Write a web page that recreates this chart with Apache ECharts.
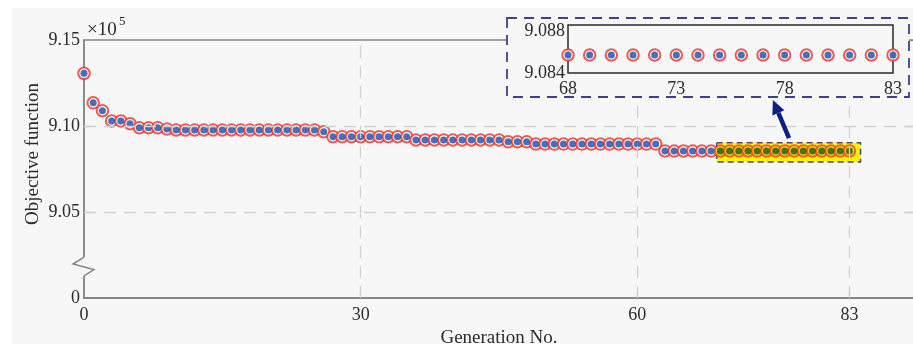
<!DOCTYPE html>
<html><head><meta charset="utf-8">
<script src="https://cdn.jsdelivr.net/npm/echarts@6/dist/echarts.min.js"></script>
<style>
html,body{margin:0;padding:0;background:#fff;width:913px;height:344px;overflow:hidden}
#c{position:absolute;left:12px;top:8px;width:901px;height:336px;background:#f7f7f7}
</style></head><body><div id="c"></div>
<script>
// ---- data (objective function values in units of 1e5) ----
const generations = [0,1,2,3,4,5,6,7,8,9,10,11,12,13,14,15,16,17,18,19,20,21,22,23,24,25,26,27,28,29,30,31,32,33,34,35,36,37,38,39,40,41,42,43,44,45,46,47,48,49,50,51,52,53,54,55,56,57,58,59,60,61,62,63,64,65,66,67,68,69,70,71,72,73,74,75,76,77,78,79,80,81,82,83];
const objective = [
  9.1306, 9.1135, 9.1089, 9.1029, 9.1029, 9.1013, 9.0990, 9.0990, 9.0990, 9.0983,
  9.0977, 9.0977, 9.0977, 9.0977, 9.0977, 9.0977, 9.0977, 9.0977, 9.0977, 9.0977,
  9.0977, 9.0977, 9.0977, 9.0977, 9.0977, 9.0977, 9.0967, 9.0938, 9.0938, 9.0938,
  9.0938, 9.0938, 9.0938, 9.0938, 9.0938, 9.0938, 9.0919, 9.0919, 9.0919, 9.0919,
  9.0919, 9.0919, 9.0919, 9.0919, 9.0919, 9.0919, 9.0909, 9.0909, 9.0909, 9.0895,
  9.0895, 9.0895, 9.0895, 9.0895, 9.0895, 9.0895, 9.0895, 9.0895, 9.0895, 9.0895,
  9.0895, 9.0895, 9.0895, 9.0855, 9.0855, 9.0855, 9.0855, 9.0855, 9.0855, 9.0855,
  9.0855, 9.0855, 9.0855, 9.0855, 9.0855, 9.0855, 9.0855, 9.0855, 9.0855, 9.0855,
  9.0855, 9.0855, 9.0855, 9.0855
];
const xTicks = [0, 30, 60, 83];
const xGrid = [30, 60, 83];
const yTicks = [9.00, 9.05, 9.10, 9.15];
const yGrid = [9.05, 9.10];
const insetXTicks = [68, 73, 78, 83];
const insetXGrid = [73, 78];
const insetYTicks = [9.084, 9.088];
const insetYGrid = [9.086];
const insetFirstGen = 68;
const highlightFirstGen = 69;

// annotation geometry in data units
const highlightBox = {x0: 68.6, x1: 84.2, y0: 9.0791, y1: 9.0903};
const arrowFrom = [76.45, 9.0930];
const arrowTo = [74.7, 9.1151];
const breakRange = [9.0238, 9.0128];

const FONT = 'Liberation Serif';
const TXT = '#2b2b2b';
const AX = '#858585';

const ringData = generations.map((g, i) => g >= highlightFirstGen
  ? {value: [g, objective[i]], itemStyle: {color: '#f2de1a', borderColor: '#e8402a'}}
  : [g, objective[i]]);
const coreData = generations.map((g, i) => g >= highlightFirstGen
  ? {value: [g, objective[i]], itemStyle: {color: '#24501c'}}
  : [g, objective[i]]);
const insetPts = generations.map((g, i) => [g, objective[i]]).filter(p => p[0] >= insetFirstGen);

const chart = echarts.init(document.getElementById('c'), null, {renderer: 'canvas'});
const option = {
  animation: false,
  backgroundColor: 'transparent',
  textStyle: {fontFamily: FONT, color: TXT},
  grid: [
    {left: 72, top: 32, width: 830, height: 258, show: true, borderColor: AX, borderWidth: 1.5, backgroundColor: 'transparent', z: 0,
     containLabel: false, outerBoundsMode: 'none'},
    {left: 556, top: 17, width: 325, height: 48, show: true, borderColor: '#2b2b2b', borderWidth: 1.5, backgroundColor: '#f7f7f7', z: 6,
     containLabel: false, outerBoundsMode: 'none'}
  ],
  xAxis: [
    {type: 'value', gridIndex: 0, min: 0, max: 90, z: 1,
     axisLine: {show: true, lineStyle: {color: AX, width: 2}},
     axisTick: {show: true, inside: true, length: 6, customValues: xGrid, lineStyle: {color: AX, width: 1.2}},
     axisLabel: {customValues: xTicks, fontSize: 18, color: TXT, fontFamily: FONT, margin: 8},
     splitLine: {show: false},
     name: 'Generation No.', nameLocation: 'middle', nameGap: 30,
     nameTextStyle: {fontSize: 19, color: TXT, fontFamily: FONT}},
    {type: 'value', gridIndex: 1, min: 68, max: 83, z: 7,
     axisLine: {show: false}, axisTick: {show: false},
     axisLabel: {customValues: insetXTicks, fontSize: 18, color: TXT, fontFamily: FONT, margin: 7},
     splitLine: {show: false}}
  ],
  yAxis: [
    {type: 'value', gridIndex: 0, min: 9.00, max: 9.15, z: 1,
     axisLine: {show: true, lineStyle: {color: AX, width: 1.5}},
     axisTick: {show: true, inside: true, length: 6, customValues: yGrid, lineStyle: {color: AX, width: 1.2}},
     axisLabel: {customValues: yTicks, fontSize: 18, color: TXT, fontFamily: FONT, margin: 4,
       formatter: v => Math.abs(v - 9) < 1e-9 ? '0' : v.toFixed(2)},
     splitLine: {show: false}},
    {type: 'value', gridIndex: 0, position: 'right', min: 9.00, max: 9.15, z: 1,
     axisLine: {show: false},
     axisTick: {show: true, inside: true, length: 7, customValues: [9.05, 9.10, 9.15], lineStyle: {color: AX, width: 1.2}},
     axisLabel: {show: false}, splitLine: {show: false}},
    {type: 'value', gridIndex: 1, min: 9.084, max: 9.088, z: 7,
     axisLine: {show: false}, axisTick: {show: false},
     axisLabel: {customValues: insetYTicks, fontSize: 18, color: TXT, fontFamily: FONT, margin: 3,
       formatter: v => v > 9.087 ? '{top|' + v.toFixed(3) + '}' : v.toFixed(3),
       rich: {top: {fontSize: 18, fontFamily: FONT, color: TXT, padding: [13, 0, 0, 0]}}},
     splitLine: {show: false}}
  ],
  series: [
    {type: 'line', xAxisIndex: 0, yAxisIndex: 0, data: [], z: 1, silent: true,
     markLine: {silent: true, symbol: ['none', 'none'], label: {show: false},
       lineStyle: {color: '#d2d2d2', type: [12, 8], width: 1.3},
       data: xGrid.map(v => ({xAxis: v})).concat(yGrid.map(v => ({yAxis: v})))}},
    {type: 'scatter', xAxisIndex: 0, yAxisIndex: 0, data: [], z: 2, silent: true,
     markArea: {silent: true, label: {show: false},
       itemStyle: {color: '#fff200', borderColor: '#4a4a6e', borderWidth: 1.5, borderType: [6, 4]},
       data: [[{xAxis: highlightBox.x0, yAxis: highlightBox.y1}, {xAxis: highlightBox.x1, yAxis: highlightBox.y0}]]}},
    {type: 'scatter', xAxisIndex: 0, yAxisIndex: 0, z: 3, symbol: 'circle', symbolSize: 11.5,
     itemStyle: {color: '#fbfbfb', borderColor: '#e8322b', borderWidth: 2}, data: ringData},
    {type: 'scatter', xAxisIndex: 0, yAxisIndex: 0, z: 4, symbol: 'circle', symbolSize: 7,
     itemStyle: {color: '#1b4ca8'}, data: coreData},
    {type: 'line', xAxisIndex: 1, yAxisIndex: 2, data: [], z: 7, silent: true,
     markLine: {silent: true, symbol: ['none', 'none'], label: {show: false},
       lineStyle: {color: '#dedede', type: 'solid', width: 1.2},
       data: insetXGrid.map(v => ({xAxis: v})).concat(insetYGrid.map(v => ({yAxis: v})))}},
    {type: 'scatter', xAxisIndex: 1, yAxisIndex: 2, z: 8, symbol: 'circle', symbolSize: 11.5,
     itemStyle: {color: '#fbfbfb', borderColor: '#e8322b', borderWidth: 2}, data: insetPts},
    {type: 'scatter', xAxisIndex: 1, yAxisIndex: 2, z: 9, symbol: 'circle', symbolSize: 7,
     itemStyle: {color: '#1b4ca8'}, data: insetPts}
  ]
};
chart.setOption(option);

// ---- annotations computed from the axes ----
const P = (x, y) => chart.convertToPixel({gridIndex: 0}, [x, y]);
const b1 = P(0, breakRange[0]), b2 = P(0, breakRange[1]);
const ax = b1[0];
const aT = P(arrowTo[0], arrowTo[1]), aF = P(arrowFrom[0], arrowFrom[1]);
const dx = aT[0] - aF[0], dy = aT[1] - aF[1], L = Math.hypot(dx, dy);
const ux = dx / L, uy = dy / L, px = -uy, py = ux;
const headLen = 14, headW = 6.5;
const base = [aT[0] - ux * headLen, aT[1] - uy * headLen];
const ib0 = chart.convertToPixel({gridIndex: 1}, [68, 9.088]);
const ib1 = chart.convertToPixel({gridIndex: 1}, [83, 9.084]);

chart.setOption({
  graphic: {elements: [
    {type: 'rect', z: 5, shape: {x: ib0[0] - 61, y: ib0[1] - 7, width: (ib1[0] - ib0[0]) + 77, height: (ib1[1] - ib0[1]) + 31},
     style: {fill: '#f7f7f7', stroke: '#3f3f8c', lineWidth: 1.8, lineDash: [10, 7]}},
    {type: 'rect', z: 12, shape: {x: ax - 3, y: b1[1], width: 6, height: b2[1] - b1[1]},
     style: {fill: '#f7f7f7'}},
    {type: 'polyline', z: 13, shape: {points: [[ax, b1[1]], [ax - 11, b1[1] + 7], [ax + 10, b1[1] + 12.5], [ax, b2[1]]]},
     style: {stroke: AX, lineWidth: 1.5, fill: null}},
    {type: 'line', z: 14, shape: {x1: aF[0], y1: aF[1], x2: base[0], y2: base[1]},
     style: {stroke: '#0c1f82', lineWidth: 4.5}},
    {type: 'polygon', z: 14, shape: {points: [[aT[0], aT[1]],
       [base[0] + px * headW, base[1] + py * headW], [base[0] - px * headW, base[1] - py * headW]]},
     style: {fill: '#0c1f82'}},
    {type: 'text', z: 14, x: 75, y: 22,
     style: {text: '×10', font: '19px "Liberation Serif"', fill: TXT, textVerticalAlign: 'middle'}},
    {type: 'text', z: 14, x: 107, y: 14,
     style: {text: '5', font: '13px "Liberation Serif"', fill: TXT, textVerticalAlign: 'middle'}},
    {type: 'text', z: 14, x: 21, y: 146, rotation: Math.PI / 2,
     style: {text: 'Objective function', font: '19px "Liberation Serif"', fill: TXT, textAlign: 'center', textVerticalAlign: 'middle'}}
  ]}
});
</script></body></html>
